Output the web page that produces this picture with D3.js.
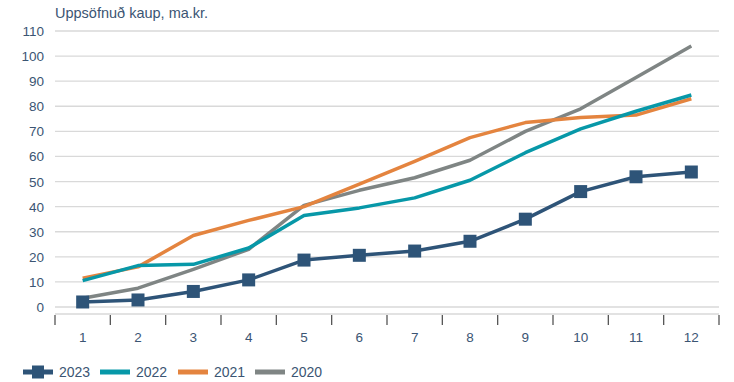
<!DOCTYPE html>
<html>
<head>
<meta charset="utf-8">
<script src="https://cdn.jsdelivr.net/npm/d3@7"></script>
<style>
  body { margin: 0; background: #fff; }
  text { font-family: "Liberation Sans", Arial, sans-serif; fill: #3b5573; }
</style>
</head>
<body>
<script>
var months = [1, 2, 3, 4, 5, 6, 7, 8, 9, 10, 11, 12];
var yTicks = [0, 10, 20, 30, 40, 50, 60, 70, 80, 90, 100, 110];
var v2023 = [2.0, 2.8, 6.2, 10.8, 18.7, 20.6, 22.3, 26.2, 35.0, 46.0, 51.9, 53.8];
var v2022 = [10.5, 16.5, 17.0, 23.5, 36.5, 39.5, 43.5, 50.5, 61.5, 71.0, 78.0, 84.5];
var v2021 = [11.5, 16.0, 28.5, 34.5, 40.0, 49.0, 58.0, 67.5, 73.5, 75.5, 76.5, 83.0];
var v2020 = [3.5, 7.5, 15.0, 23.0, 40.5, 46.5, 51.5, 58.5, 70.0, 79.0, 91.5, 104.0];

var series = [
    {name: "2020", values: v2020, color: "#7f8584"},
    {name: "2021", values: v2021, color: "#e4843f"},
    {name: "2022", values: v2022, color: "#0798a8"},
    {name: "2023", values: v2023, color: "#2e5478", marker: true}
];

var w = 734, h = 382;
var left = 55, right = 719;

var svg = d3.select("body").append("svg")
    .attr("width", w)
    .attr("height", h);

var x = d3.scaleBand()
    .domain(months)
    .range([left, right]);

var y = d3.scaleLinear()
    .domain([0, 110])
    .range([307, 31]);

// gridlines
svg.selectAll("line.grid")
    .data(yTicks).enter()
    .append("line")
    .attr("class", "grid")
    .attr("x1", left)
    .attr("x2", right)
    .attr("y1", function (d) { return y(d); })
    .attr("y2", function (d) { return y(d); })
    .attr("stroke", "#d9d9d9")
    .attr("stroke-width", 1.3);

// y labels
svg.selectAll("text.ylab")
    .data(yTicks).enter()
    .append("text")
    .attr("class", "ylab")
    .attr("x", 44)
    .attr("y", function (d) { return y(d) + 5; })
    .attr("text-anchor", "end")
    .style("font-size", "13.5px")
    .text(function (d) { return d; });

// x axis baseline
svg.append("line")
    .attr("x1", left).attr("x2", right)
    .attr("y1", 314).attr("y2", 314)
    .attr("stroke", "#d9d9d9")
    .attr("stroke-width", 1.3);

// x ticks (boundaries between categories)
var bounds = months.map(function (d) { return x(d); }).concat([right]);
svg.selectAll("line.xtick")
    .data(bounds).enter()
    .append("line")
    .attr("class", "xtick")
    .attr("x1", function (d) { return d; })
    .attr("x2", function (d) { return d; })
    .attr("y1", 315).attr("y2", 325)
    .attr("stroke", "#555")
    .attr("stroke-width", 1.3);

svg.selectAll("text.xlab")
    .data(months).enter()
    .append("text")
    .attr("class", "xlab")
    .attr("x", function (d) { return x(d) + x.bandwidth() / 2; })
    .attr("y", 342)
    .attr("text-anchor", "middle")
    .style("font-size", "13.5px")
    .text(function (d) { return d; });

// title
svg.append("text")
    .attr("x", 55)
    .attr("y", 18)
    .style("font-size", "14.5px")
    .text("Uppsöfnuð kaup, ma.kr.");

var line = d3.line()
    .x(function (d, i) { return x(months[i]) + x.bandwidth() / 2; })
    .y(function (d) { return y(d); });

series.forEach(function (s) {
    svg.append("path")
        .datum(s.values)
        .attr("d", line)
        .attr("fill", "none")
        .attr("stroke", s.color)
        .attr("stroke-width", 3.5)
        .attr("stroke-linejoin", "round");
    if (s.marker) {
        svg.selectAll("rect.mk")
            .data(s.values).enter()
            .append("rect")
            .attr("class", "mk")
            .attr("x", function (d, i) { return x(months[i]) + x.bandwidth() / 2 - 6.5; })
            .attr("y", function (d) { return y(d) - 6.5; })
            .attr("width", 13)
            .attr("height", 13)
            .attr("fill", s.color);
    }
});

// legend
var legend = [series[3], series[2], series[1], series[0]];
var lx = [23, 100, 178, 255];
legend.forEach(function (s, i) {
    var g = svg.append("g").attr("transform", "translate(" + lx[i] + ",372)");
    g.append("line")
        .attr("x1", 0).attr("x2", 30)
        .attr("y1", 0).attr("y2", 0)
        .attr("stroke", s.color)
        .attr("stroke-width", 5);
    if (s.marker) {
        g.append("rect")
            .attr("x", 9).attr("y", -6.5)
            .attr("width", 12).attr("height", 13)
            .attr("fill", s.color);
    }
    g.append("text")
        .attr("x", 36)
        .attr("y", 5)
        .style("font-size", "14px")
        .text(s.name);
});
</script>
</body>
</html>
